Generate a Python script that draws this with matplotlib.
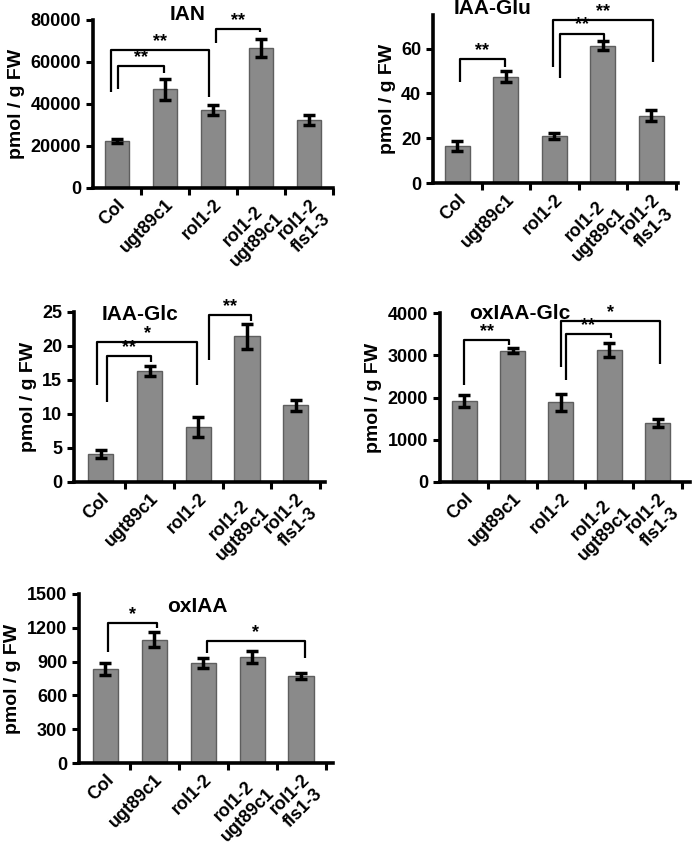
import matplotlib
matplotlib.use("Agg")
import matplotlib.pyplot as plt

plt.rcParams['font.family'] = ['Liberation Sans', 'DejaVu Sans']
plt.rcParams['font.weight'] = 'bold'

genotypes = ["Col", "ugt89c1", "rol1-2", "rol1-2\nugt89c1", "rol1-2\nfls1-3"]

# values
ian_vals = [22500, 47000, 37100, 66800, 32400]
ian_errs = [1000, 5000, 2500, 4200, 2500]
ian_ticks = [0, 20000, 40000, 60000, 80000]
# (x left, x right, bracket height, left leg end, right leg end, label)
ian_brackets = [(0.02, 0.98, 58100, 47000, 54700, "**"),
                (-0.12, 1.91, 65700, 45900, 43500, "**"),
                (2.06, 2.98, 75600, 69200, 74100, "**")]

glu_vals = [16.6, 47.4, 21.0, 61.2, 30.0]
glu_errs = [2.3, 2.5, 1.5, 2.0, 2.5]
glu_ticks = [0, 20, 40, 60]
glu_brackets = [(0.05, 0.98, 55.5, 45.2, 51.8, "**"),
                (2.11, 3.02, 66.7, 46.7, 64.0, "**"),
                (1.98, 4.04, 72.9, 51.8, 53.8, "**")]

glc_vals = [4.1, 16.3, 8.1, 21.4, 11.3]
glc_errs = [0.6, 0.7, 1.5, 1.8, 0.8]
glc_ticks = [0, 5, 10, 15, 20, 25]
glc_brackets = [(0.13, 1.03, 18.5, 11.8, 17.6, "**"),
                (-0.07, 1.98, 20.6, 14.2, 14.2, "*"),
                (2.22, 3.09, 24.5, 17.9, 23.7, "**")]

oxglc_vals = [1920, 3110, 1890, 3130, 1400]
oxglc_errs = [150, 50, 200, 170, 100]
oxglc_ticks = [0, 1000, 2000, 3000, 4000]
oxglc_brackets = [(0.0, 0.93, 3370, 2290, 3235, "**"),
                  (2.1, 3.03, 3510, 2410, 3410, "**"),
                  (2.0, 4.05, 3810, 2720, 2800, "*")]

oxiaa_vals = [835, 1095, 890, 940, 772]
oxiaa_errs = [55, 65, 45, 50, 30]
oxiaa_ticks = [0, 300, 600, 900, 1200, 1500]
oxiaa_brackets = [(0.06, 1.05, 1239, 987, 1195, "*"),
                  (2.07, 4.08, 1085, 972, 928, "*")]

W, H = 693, 844
fig = plt.figure(figsize=(W / 100, H / 100), dpi=100)


def panel(px_left, px_right, px_top, px_bottom, xlim, ylim, vals, errs, ticks,
          brackets, title, title_xy):
    ax = fig.add_axes([px_left / W, 1 - px_bottom / H,
                       (px_right - px_left) / W, (px_bottom - px_top) / H])
    x = list(range(len(genotypes)))
    ax.bar(x, vals, width=0.52, color="#8a8a8a", edgecolor="#5e5e5e",
           linewidth=1.0, zorder=2)
    ax.errorbar(x, vals, yerr=errs, fmt="none", ecolor="black",
                elinewidth=2.5, capsize=4, capthick=2.5, zorder=3)
    for x1, x2, yt, yl, yr, lab in brackets:
        ax.plot([x1, x1, x2, x2], [yl, yt, yt, yr], color="black", lw=1.6,
                solid_capstyle="butt", clip_on=False, zorder=4)
        ax.text((x1 + x2) / 2, yt, lab, ha="center", va="bottom",
                fontsize=13, fontweight="bold", clip_on=False)
    ax.set_xlim(*xlim)
    ax.set_ylim(*ylim)
    ax.set_yticks(ticks)
    ax.set_yticklabels([str(t) for t in ticks], fontsize=13, fontweight="bold")
    ax.set_xticks([i + 0.5 for i in range(len(genotypes))])
    ax.set_xticklabels([])
    ax.set_xticks(x, minor=True)
    ax.set_xticklabels(genotypes, minor=True, rotation=45, ha="right",
                       rotation_mode="anchor", fontsize=13,
                       fontweight="bold", multialignment="center")
    ax.tick_params(axis="x", which="minor", length=0, pad=6)
    ax.tick_params(axis="both", which="major", direction="out", length=5,
                   width=2.2)
    for s in ["top", "right"]:
        ax.spines[s].set_visible(False)
    for s in ["left", "bottom"]:
        ax.spines[s].set_linewidth(2.6)
    ax.set_ylabel("pmol / g FW", fontsize=14, fontweight="bold", labelpad=4)
    fig.text(title_xy[0] / W, 1 - title_xy[1] / H, title, ha="center",
             va="center", fontsize=15, fontweight="bold")
    return ax


panel(93, 333, 20, 188, (-0.5, 4.5), (0, 80000), ian_vals, ian_errs,
      ian_ticks, ian_brackets, "IAN", (188, 15))
panel(433, 678, 15, 183, (-0.5, 4.55), (0, 75), glu_vals, glu_errs,
      glu_ticks, glu_brackets, "IAA-Glu", (493, 8))
panel(74, 325, 312, 482, (-0.55, 4.6), (0, 25), glc_vals, glc_errs,
      glc_ticks, glc_brackets, "IAA-Glc", (140, 315))
panel(440, 690, 313, 482, (-0.5, 4.67), (0, 4000), oxglc_vals, oxglc_errs,
      oxglc_ticks, oxglc_brackets, "oxIAA-Glc", (520, 313))
panel(79, 333, 594, 763, (-0.54, 4.65), (0, 1500), oxiaa_vals, oxiaa_errs,
      oxiaa_ticks, oxiaa_brackets, "oxIAA", (197, 607))

fig.savefig("out.png", dpi=100)
